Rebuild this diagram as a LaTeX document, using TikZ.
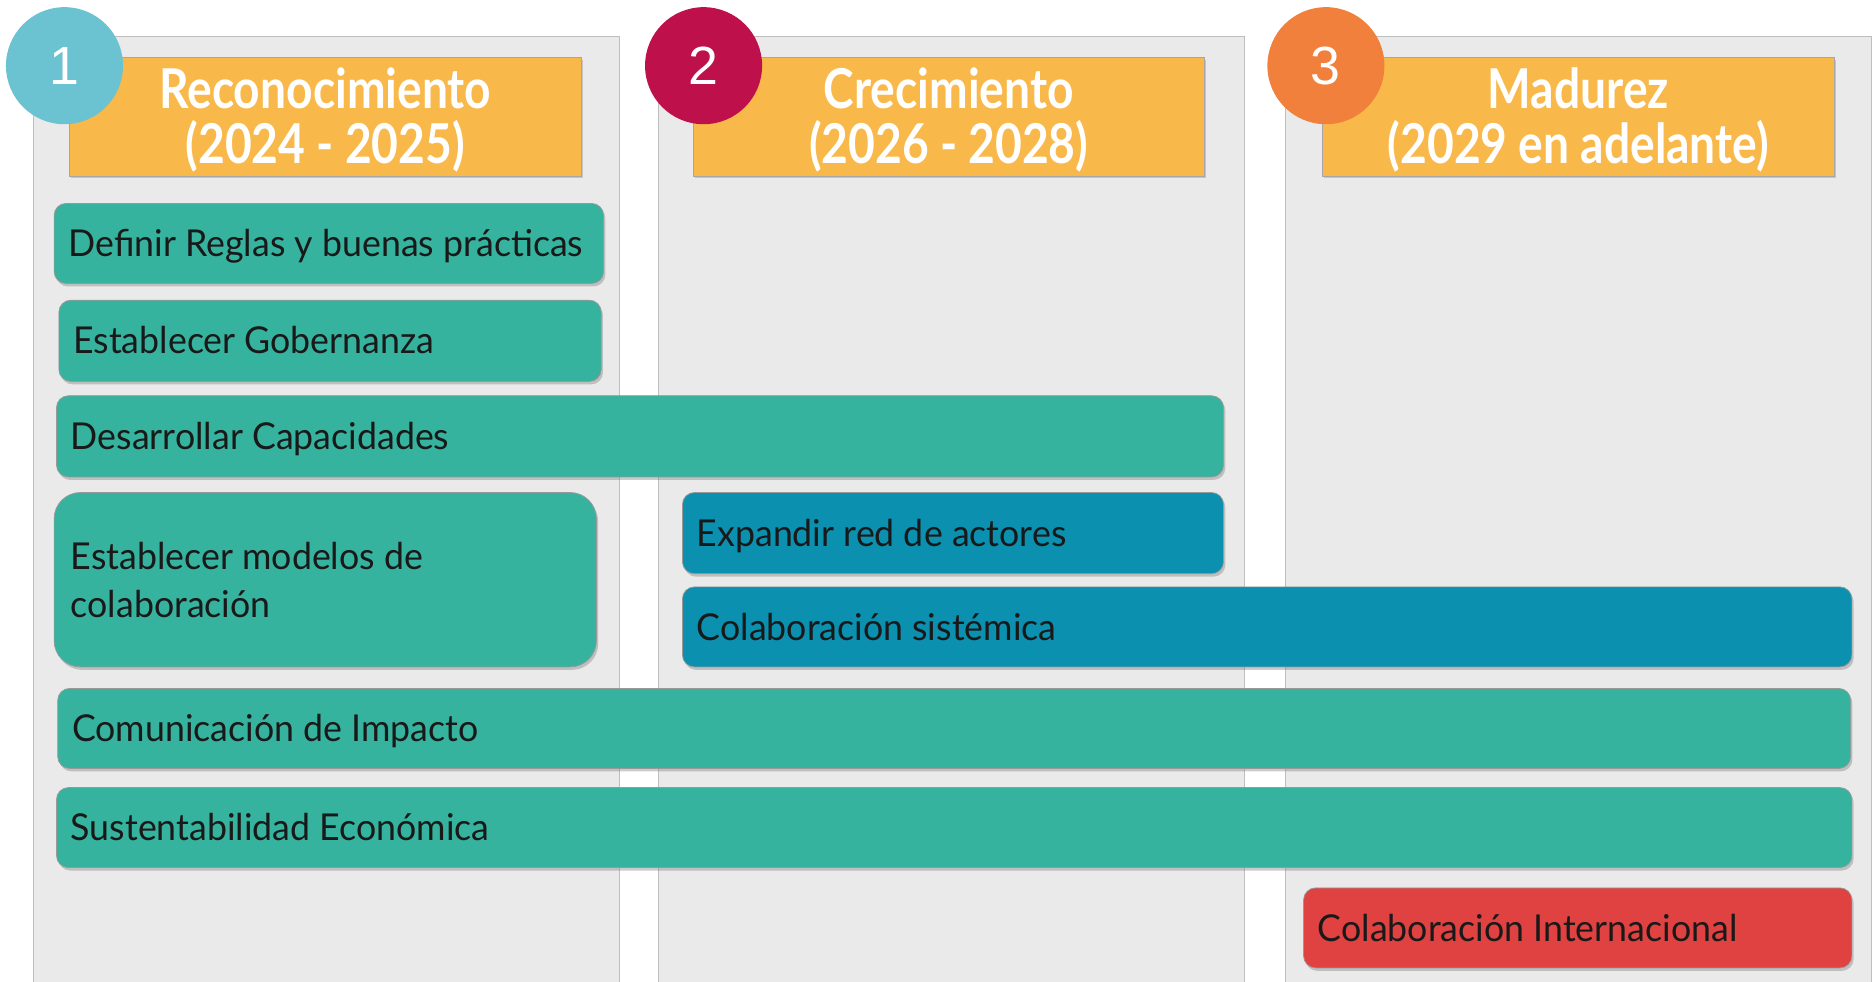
\documentclass[tikz,border=0pt]{standalone}
\usepackage{fontspec}
\setmainfont{Lato}[FakeStretch=0.965]
\newfontfamily\headfont{Lato}[FakeStretch=0.84]
\newfontfamily\numfont{Liberation Sans}
\usetikzlibrary{shadows}

\definecolor{colgray}{RGB}{234,234,234}
\definecolor{colline}{RGB}{190,190,190}
\definecolor{hdrorange}{RGB}{249,185,74}
\definecolor{tealbox}{RGB}{54,179,158}
\definecolor{bluebox}{RGB}{11,144,176}
\definecolor{redbox}{RGB}{224,65,65}
\definecolor{numone}{RGB}{107,194,208}
\definecolor{numtwo}{RGB}{190,17,75}
\definecolor{numthree}{RGB}{240,128,60}

\begin{document}
\begin{tikzpicture}[x=1pt, y=-1pt,
    col/.style={draw=colline, fill=colgray, line width=0.8pt, anchor=north west, inner sep=0pt},
    hdr/.style={draw=black!35, fill=hdrorange, line width=0.6pt, anchor=north west,
      text=white, align=center, inner sep=0pt,
      font=\headfont\bfseries\fontsize{46}{46}\selectfont,
      drop shadow={opacity=0.35, shadow xshift=1.5pt, shadow yshift=-2pt}},
    num/.style={circle, minimum size=98pt, inner sep=0pt, text=white,
      font=\numfont\fontsize{45}{45}\selectfont},
    task/.style={draw=black!40, line width=0.6pt, rounded corners=10pt, anchor=north west,
      inner xsep=12pt, inner ysep=0pt, align=flush left, text=black!90,
      text height=29pt, text depth=7pt,
      font=\fontsize{31}{40}\selectfont,
      drop shadow={opacity=0.4, shadow xshift=1.5pt, shadow yshift=-2.5pt}}]
  \useasboundingbox (0,0) rectangle (1568,822);

  % phase columns
  \node[col, minimum width=490pt, minimum height=810pt] (colA) at (28,30) {};
  \node[col, minimum width=490pt, minimum height=810pt] (colB) at (551,30) {};
  \node[col, minimum width=490pt, minimum height=810pt] (colC) at (1076,30) {};

  % phase headers
  \node[hdr, minimum width=428pt, minimum height=99pt] (hdrA) at (58,48) {\rule{0pt}{40pt}Reconocimiento\\(2024 - 2025)};
  \node[hdr, minimum width=428pt, minimum height=99pt] (hdrB) at (580,48) {\rule{0pt}{40pt}Crecimiento\\(2026 - 2028)};
  \node[hdr, minimum width=428pt, minimum height=99pt] (hdrC) at (1107,48) {\rule{0pt}{40pt}Madurez\\(2029 en adelante)};

  \node[num, fill=numone] (numA) at (54,55) {1};
  \node[num, fill=numtwo] (numB) at (589,55) {2};
  \node[num, fill=numthree] (numC) at (1110,55) {3};

  % lines of work
  \node[task, fill=tealbox, minimum width=460pt, minimum height=67pt, text width=436pt] (reglas) at (45,170) {Definir Reglas y buenas prácticas};
  \node[task, fill=tealbox, minimum width=454pt, minimum height=68pt, text width=430pt] (gober) at (49,251) {Establecer Gobernanza};
  \node[task, fill=tealbox, minimum width=977pt, minimum height=68pt, text width=953pt] (capac) at (47,331) {Desarrollar Capacidades};
  \node[task, fill=tealbox, rounded corners=22pt, text height={}, text depth={}, minimum width=454pt, minimum height=146pt, text width=426pt, inner xsep=14pt] (modelos) at (45,412) {Establecer modelos de\\colaboración};
  \node[task, fill=bluebox, minimum width=453pt, minimum height=68pt, text width=429pt] (expand) at (571,412) {Expandir red de actores};
  \node[task, fill=bluebox, minimum width=979pt, minimum height=67pt, text width=955pt] (sistem) at (571,491) {Colaboración sistémica};
  \node[task, fill=tealbox, minimum width=1501pt, minimum height=67pt, text width=1477pt] (comun) at (48,576) {Comunicación de Impacto};
  \node[task, fill=tealbox, minimum width=1503pt, minimum height=67pt, text width=1479pt] (susten) at (47,659) {Sustentabilidad Económica};
  \node[task, fill=redbox, minimum width=459pt, minimum height=67pt, text width=435pt] (intern) at (1091,743) {Colaboración Internacional};

\end{tikzpicture}
\end{document}
